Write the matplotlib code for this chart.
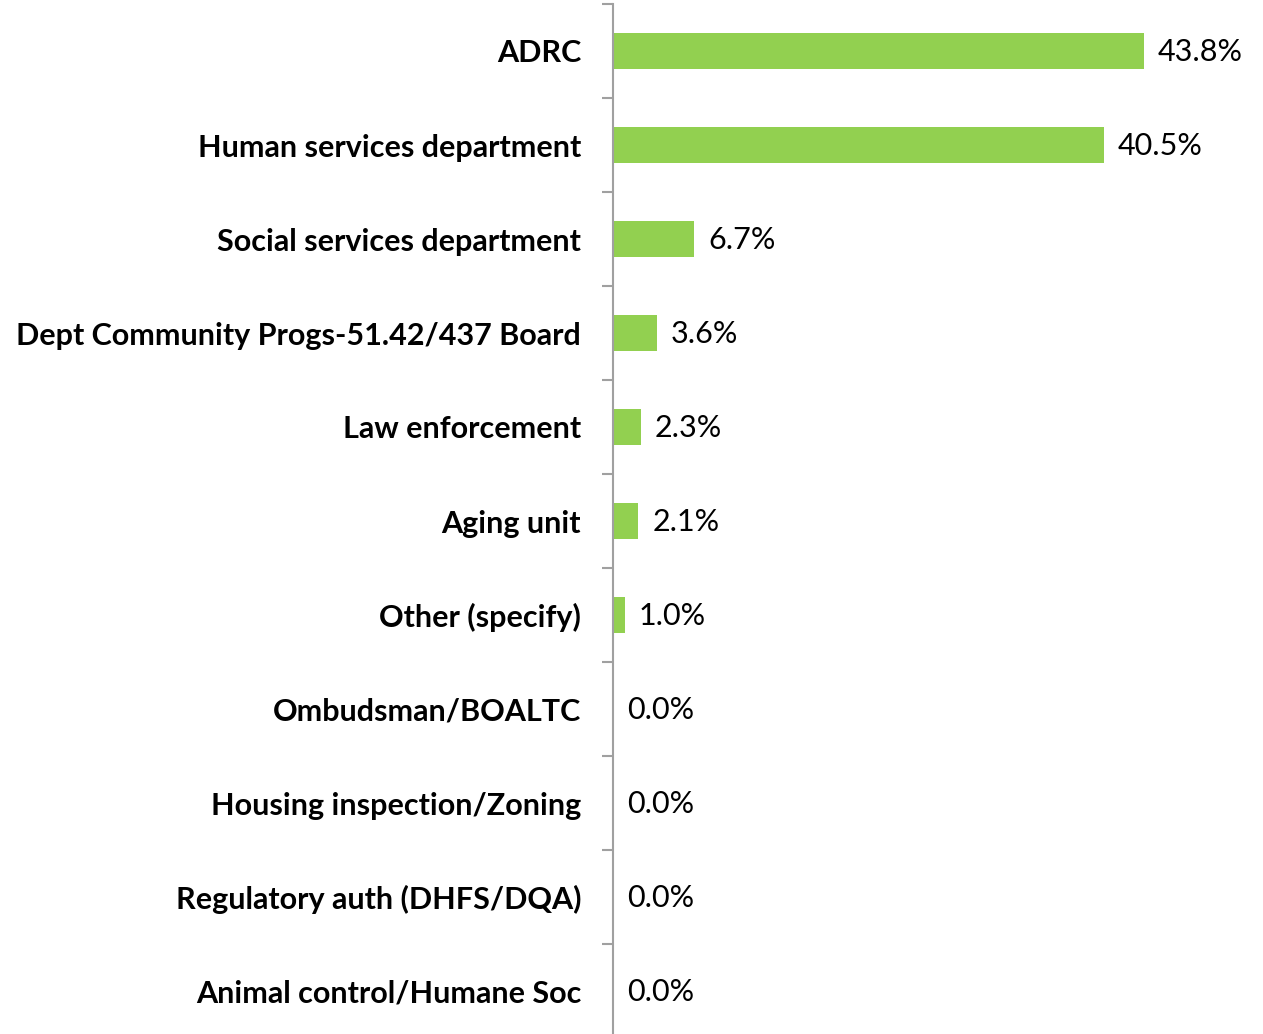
import numpy as np
import matplotlib.pyplot as plt

categories = ['ADRC', 'Human services department', 'Social services department',
              'Dept Community Progs-51.42/437 Board', 'Law enforcement', 'Aging unit',
              'Other (specify)', 'Ombudsman/BOALTC', 'Housing inspection/Zoning',
              'Regulatory auth (DHFS/DQA)', 'Animal control/Humane Soc']
values = [43.8, 40.5, 6.7, 3.6, 2.3, 2.1, 1.0, 0.0, 0.0, 0.0, 0.0]

plt.rcParams['font.family'] = ['Lato', 'DejaVu Sans']

fig = plt.figure(figsize=(12.63, 10.34), dpi=100)
# axes: top edge 4 px below the figure top, bottom edge 4 px past the figure bottom
ax = fig.add_axes([613 / 1263, -4 / 1034, 650 / 1263, 1034 / 1034])

y = np.arange(len(categories))
ax.barh(y, values, height=0.39, color='#92D050')
for yi, v in zip(y, values):
    ax.annotate(f'{v:.1f}%', (v, yi), xytext=(10, -1), textcoords='offset points',
                va='center', ha='left', fontsize=22)

ax.set_ylim(len(categories) - 0.5, -0.5)
ax.set_xlim(0, 650 / 12.12)
ax.set_yticks(y)
ax.set_yticklabels(categories, fontsize=22, fontweight='bold')
ax.tick_params(axis='y', which='major', length=0, pad=23)
ax.set_yticks(np.arange(-0.5, len(categories)), minor=True)
ax.tick_params(axis='y', which='minor', length=8, width=1.5, color='#A0A0A0')
ax.set_xticks([])
for s in ['top', 'right', 'bottom']:
    ax.spines[s].set_visible(False)
ax.spines['left'].set_color('#A0A0A0')
ax.spines['left'].set_linewidth(1.5)

fig.savefig('out.png', dpi=100)
